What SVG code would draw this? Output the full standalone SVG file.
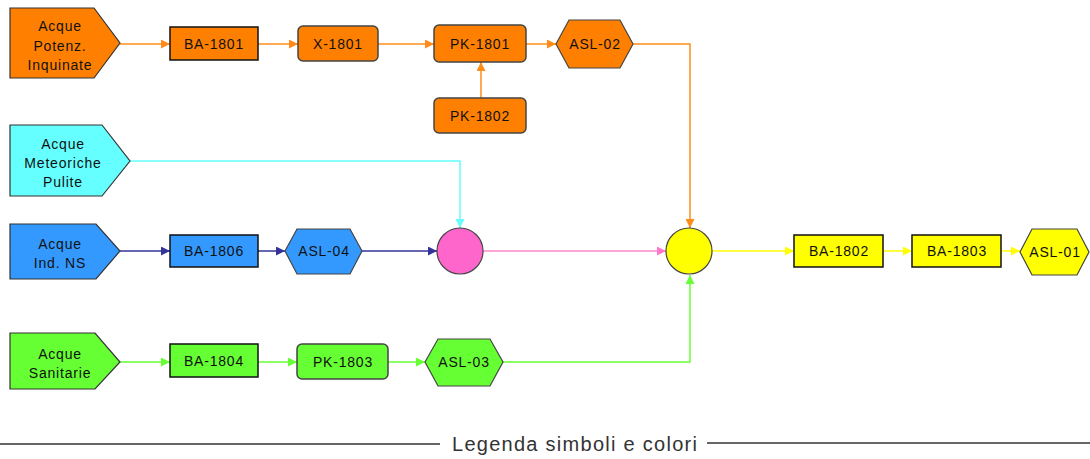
<svg xmlns="http://www.w3.org/2000/svg" width="1090" height="459" viewBox="0 0 1090 459">
<style>
text{font-family:"Liberation Sans",Arial,sans-serif;font-size:14px;fill:#111;text-anchor:middle;letter-spacing:0.8px}
.src{stroke:#333;stroke-width:1.2}
.ba{stroke:#111;stroke-width:1.5}
.rr{stroke:#444;stroke-width:1.5}
.hex{stroke:#444;stroke-width:1.2}
.circ{stroke:#444;stroke-width:1.2}
.c{fill:none;stroke-width:1.5}
.or{fill:#FF8000}.cy{fill:#66FFFF}.bl{fill:#3399FF}.gr{fill:#66FF33}.ye{fill:#FFFF00}.pk{fill:#FF66CC}
.legend{font-size:20px;fill:#333;text-anchor:start;letter-spacing:0}
</style>
<defs>
<marker id="aO" viewBox="0 0 10 10" refX="10" refY="5" markerWidth="9" markerHeight="9" markerUnits="userSpaceOnUse" orient="auto"><path d="M0,0L10,5L0,10z" fill="#FF8C1A"/></marker>
<marker id="aC" viewBox="0 0 10 10" refX="10" refY="5" markerWidth="9" markerHeight="9" markerUnits="userSpaceOnUse" orient="auto"><path d="M0,0L10,5L0,10z" fill="#66FFFF"/></marker>
<marker id="aN" viewBox="0 0 10 10" refX="10" refY="5" markerWidth="9" markerHeight="9" markerUnits="userSpaceOnUse" orient="auto"><path d="M0,0L10,5L0,10z" fill="#333399"/></marker>
<marker id="aP" viewBox="0 0 10 10" refX="10" refY="5" markerWidth="9" markerHeight="9" markerUnits="userSpaceOnUse" orient="auto"><path d="M0,0L10,5L0,10z" fill="#FF77CC"/></marker>
<marker id="aY" viewBox="0 0 10 10" refX="10" refY="5" markerWidth="9" markerHeight="9" markerUnits="userSpaceOnUse" orient="auto"><path d="M0,0L10,5L0,10z" fill="#FFFF00"/></marker>
<marker id="aG" viewBox="0 0 10 10" refX="10" refY="5" markerWidth="9" markerHeight="9" markerUnits="userSpaceOnUse" orient="auto"><path d="M0,0L10,5L0,10z" fill="#66FF33"/></marker>
</defs>
<rect width="1090" height="459" fill="#fff"/>
<g id="connectors">
<g stroke="#FF8C1A" class="c">
<path class="c" stroke="#FF8C1A" d="M120,44H170" marker-end="url(#aO)"/>
<path class="c" stroke="#FF8C1A" d="M258,44H298" marker-end="url(#aO)"/>
<path class="c" stroke="#FF8C1A" d="M378,44H434" marker-end="url(#aO)"/>
<path class="c" stroke="#FF8C1A" d="M526,44H556" marker-end="url(#aO)"/>
<path class="c" stroke="#FF8C1A" d="M481,98V62" marker-end="url(#aO)"/>
<path class="c" stroke="#FF8C1A" d="M633,44H690V228" marker-end="url(#aO)"/>
</g>
<path class="c" stroke="#66FFFF" d="M130,161H460V228" marker-end="url(#aC)"/>
<path class="c" stroke="#333399" d="M120,251H170" marker-end="url(#aN)"/>
<path class="c" stroke="#333399" d="M258,251H285" marker-end="url(#aN)"/>
<path class="c" stroke="#333399" d="M362,251H437" marker-end="url(#aN)"/>
<path class="c" stroke="#FF88CC" d="M483,251H666" marker-end="url(#aP)"/>
<path class="c" stroke="#FFFF00" d="M712,251H794" marker-end="url(#aY)"/>
<path class="c" stroke="#FFFF00" d="M883,251H912" marker-end="url(#aY)"/>
<path class="c" stroke="#FFFF00" d="M1001,251H1020" marker-end="url(#aY)"/>
<path class="c" stroke="#66FF33" d="M120,362H170" marker-end="url(#aG)"/>
<path class="c" stroke="#66FF33" d="M258,362H297" marker-end="url(#aG)"/>
<path class="c" stroke="#66FF33" d="M388,362H425" marker-end="url(#aG)"/>
<path class="c" stroke="#66FF33" d="M503,362H690V275" marker-end="url(#aG)"/>
</g>
<g id="src-inquinate"><polygon class="src or" points="10,8 94,8 120,43 94,78 10,78"/><text x="60" y="31">Acque</text><text x="60" y="51">Potenz.</text><text x="60" y="70">Inquinate</text></g>
<g id="ba-1801"><rect class="ba or" x="170" y="27" width="88" height="33"/><text x="214" y="49">BA-1801</text></g>
<g id="x-1801"><rect class="rr or" x="298" y="26" width="80" height="35" rx="5"/><text x="338" y="49">X-1801</text></g>
<g id="pk-1801"><rect class="rr or" x="434" y="25" width="92" height="37" rx="5"/><text x="480" y="49">PK-1801</text></g>
<g id="pk-1802"><rect class="rr or" x="434" y="98" width="92" height="35" rx="5"/><text x="480" y="121">PK-1802</text></g>
<g id="asl-02"><polygon class="hex or" points="556,44 569,20 620,20 633,44 620,68 569,68"/><text x="595" y="49">ASL-02</text></g>
<g id="src-meteoriche"><polygon class="src cy" points="10,125 102,125 130,161 102,196 10,196"/><text x="63" y="149">Acque</text><text x="63" y="168">Meteoriche</text><text x="63" y="187">Pulite</text></g>
<g id="src-ind"><polygon class="src bl" points="10,224 96,224 120,251 96,279 10,279"/><text x="60" y="249">Acque</text><text x="60" y="268">Ind. NS</text></g>
<g id="ba-1806"><rect class="ba bl" x="170" y="235" width="88" height="32"/><text x="214" y="256">BA-1806</text></g>
<g id="asl-04"><polygon class="hex bl" points="285,251 297,229 350,229 362,251 350,274 297,274"/><text x="324" y="256">ASL-04</text></g>
<g id="mix-pink"><circle class="circ pk" cx="460" cy="251" r="23"/></g>
<g id="mix-yellow"><circle class="circ ye" cx="689" cy="251" r="23"/></g>
<g id="ba-1802"><rect class="ba ye" x="794" y="235" width="89" height="32"/><text x="839" y="256">BA-1802</text></g>
<g id="ba-1803"><rect class="ba ye" x="912" y="235" width="89" height="32"/><text x="957" y="256">BA-1803</text></g>
<g id="asl-01"><polygon class="hex ye" points="1020,252 1032,229 1077,229 1089,252 1077,275 1032,275"/><text x="1055" y="257">ASL-01</text></g>
<g id="src-sanitarie"><polygon class="src gr" points="10,333 95,333 120,362 95,389 10,389"/><text x="60" y="359">Acque</text><text x="60" y="378">Sanitarie</text></g>
<g id="ba-1804"><rect class="ba gr" x="170" y="344" width="88" height="33"/><text x="214" y="366">BA-1804</text></g>
<g id="pk-1803"><rect class="rr gr" x="297" y="344" width="91" height="35" rx="5"/><text x="343" y="367">PK-1803</text></g>
<g id="asl-03"><polygon class="hex gr" points="425,362 438,339 490,339 503,362 490,386 438,386"/><text x="464" y="367">ASL-03</text></g>
<g id="legend">
<line x1="0" y1="444" x2="440" y2="444" stroke="#333" stroke-width="1.5"/>
<line x1="707" y1="443" x2="1090" y2="443" stroke="#333" stroke-width="1.5"/>
<text class="legend" x="452" y="451" textLength="245">Legenda simboli e colori</text>
</g>
</svg>
